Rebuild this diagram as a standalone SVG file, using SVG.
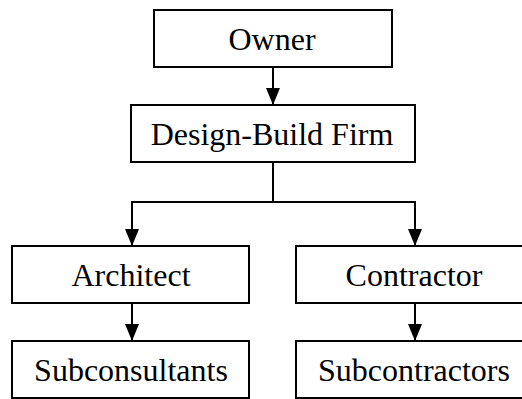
<svg xmlns="http://www.w3.org/2000/svg" width="522" height="399" viewBox="0 0 522 399">
  <style>
    .box { fill: #ffffff; stroke: #000000; stroke-width: 2; }
    .lbl { font-family: "Liberation Serif", "Times New Roman", serif; font-size: 32px; fill: #000000; text-anchor: middle; }
    .wire { fill: none; stroke: #000000; stroke-width: 2; }
  </style>
  <defs>
    <!-- solid triangular arrowhead, tip at the end of the line -->
    <marker id="head" markerUnits="userSpaceOnUse" viewBox="0 0 17 14" refX="17" refY="7" markerWidth="17" markerHeight="14" orient="auto">
      <polygon points="0,0 17,7 0,14" fill="#000000"/>
    </marker>
  </defs>
  <rect width="522" height="399" fill="#ffffff"/>

  <!-- connectors -->
  <g id="connectors">
    <path class="wire" d="M273,67 V105" marker-end="url(#head)"/>
    <path class="wire" d="M273,162 V202"/>
    <path class="wire" d="M132,202 H415"/>
    <path class="wire" d="M132,201 V246" marker-end="url(#head)"/>
    <path class="wire" d="M415,201 V246" marker-end="url(#head)"/>
    <path class="wire" d="M132,303 V341" marker-end="url(#head)"/>
    <path class="wire" d="M415,303 V341" marker-end="url(#head)"/>
  </g>

  <g id="owner">
    <rect class="box" x="154" y="10" width="238" height="57"/>
    <text class="lbl" x="272" y="50">Owner</text>
  </g>
  <g id="design-build-firm">
    <rect class="box" x="131" y="105" width="284" height="57"/>
    <text class="lbl" x="272" y="145">Design-Build Firm</text>
  </g>
  <g id="architect">
    <rect class="box" x="12" y="246" width="237" height="57"/>
    <text class="lbl" x="131" y="286">Architect</text>
  </g>
  <g id="contractor">
    <rect class="box" x="296" y="246" width="230" height="57"/>
    <text class="lbl" x="414" y="286">Contractor</text>
  </g>
  <g id="subconsultants">
    <rect class="box" x="12" y="341" width="237" height="57"/>
    <text class="lbl" x="131" y="381">Subconsultants</text>
  </g>
  <g id="subcontractors">
    <rect class="box" x="296" y="341" width="230" height="57"/>
    <text class="lbl" x="414" y="381">Subcontractors</text>
  </g>
</svg>
